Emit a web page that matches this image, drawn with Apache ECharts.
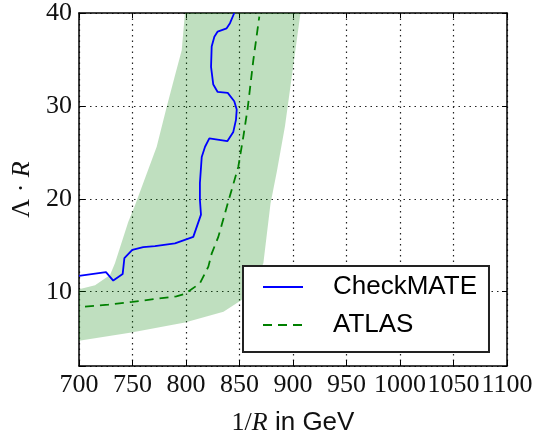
<!DOCTYPE html>
<html>
<head>
<meta charset="utf-8">
<script src="https://cdn.jsdelivr.net/npm/echarts@6/dist/echarts.min.js"></script>
<style>html,body{margin:0;padding:0;background:#fff;}#c{width:539px;height:430px;}</style>
</head>
<body>
<div id="c"></div>
<script>
// ---- data ----
const xTickValues = [700, 750, 800, 850, 900, 950, 1000, 1050, 1100];
const yTickValues = [10, 20, 30, 40];

const checkmateX = [700, 725.2, 732, 740.8, 742.4, 749.8, 760, 771, 789.7, 806.8, 814, 813, 813, 814.7, 817.8, 821.8, 838.6, 844.2, 846.7, 847.4, 845.1, 839, 829.6, 825.5, 823.4, 824, 826.5, 829.6, 838, 841.1, 845.1];
const checkmateY = [11.7, 12.1, 11.2, 11.9, 13.6, 14.5, 14.8, 14.9, 15.2, 15.9, 18.3, 19.9, 21.7, 24.5, 25.6, 26.5, 26.2, 27.2, 28.5, 29.6, 30.5, 31.4, 31.5, 32.3, 34.2, 36.4, 37.45, 38.0, 38.35, 38.9, 40];

const atlasX = [705.6, 727.4, 749.8, 777.3, 791, 799, 813, 820.9, 824, 830.2, 833.4, 839.5, 848.9, 853.6, 857.7, 862.9, 868.5];
const atlasY = [8.4, 8.6, 8.9, 9.3, 9.5, 9.75, 10.9, 12.7, 14.1, 15.9, 17.2, 19.7, 23.45, 26.7, 29.8, 34.9, 39.6];

const bandX = [700, 715, 729, 733.6, 746, 752, 772.6, 782, 790, 796, 799, 907, 892.5, 885, 879, 872.3, 862, 852, 835, 799, 749, 700];
const bandY = [10.25, 10.7, 11.8, 13.05, 17.5, 19.2, 25.6, 29.9, 33.4, 36, 40, 40, 27.8, 23, 19.5, 13.05, 10.5, 9.1, 7.85, 6.67, 5.6, 4.73];

// ---- chart ----
const zip = (xs, ys) => xs.map((x, i) => [x, ys[i]]);
const serif = 'Liberation Serif';
const sans = 'Liberation Sans';
const chart = echarts.init(document.getElementById('c'), null, {renderer: 'canvas'});

const frameLine = {show: true, lineStyle: {color: '#000', width: 1.5}};
const option = {
  animation: false,
  backgroundColor: '#fff',
  grid: {left: 79, top: 13, right: 32, bottom: 64, containLabel: false, outerBoundsMode: 'none'},
  xAxis: [{
    type: 'value', min: 700, max: 1100, interval: 50, position: 'bottom',
    axisLine: frameLine,
    axisTick: {show: true, inside: true, length: 6, lineStyle: {color: '#000', width: 1}},
    axisLabel: {fontFamily: serif, fontSize: 26, color: '#111', margin: 6,
      formatter: v => xTickValues.includes(v) ? String(v) : ''},
    splitLine: {show: true, lineStyle: {color: '#222', width: 1.2, type: [1.5, 4]}},
    name: '{n|1/}{it|R}{s| in GeV}', nameLocation: 'middle', nameGap: 44,
    nameTextStyle: {rich: {
      n: {fontFamily: serif, fontSize: 26, color: '#111'},
      it: {fontFamily: serif, fontStyle: 'italic', fontSize: 26, color: '#111'},
      s: {fontFamily: sans, fontSize: 26, color: '#111'}
    }}
  }, {
    type: 'value', min: 700, max: 1100, interval: 50, position: 'top',
    axisLine: frameLine,
    axisTick: {show: true, inside: true, length: 5, lineStyle: {color: '#000', width: 1}},
    axisLabel: {show: false}, splitLine: {show: false}
  }],
  yAxis: [{
    type: 'value', min: 2, max: 40, position: 'left',
    axisLine: frameLine,
    axisTick: {show: true, inside: true, length: 6, lineStyle: {color: '#000', width: 1}},
    axisLabel: {fontFamily: serif, fontSize: 26, color: '#111', margin: 7,
      formatter: v => yTickValues.includes(v) ? String(v) : ''},
    splitLine: {show: true, lineStyle: {color: '#222', width: 1.2, type: [1.5, 4]}},
    name: '{s|Λ · }{it|R}', nameLocation: 'middle', nameGap: 42,
    nameTextStyle: {rich: {
      s: {fontFamily: serif, fontSize: 26, color: '#111'},
      it: {fontFamily: serif, fontStyle: 'italic', fontSize: 26, color: '#111'}
    }}
  }, {
    type: 'value', min: 2, max: 40, position: 'right',
    axisLine: frameLine,
    axisTick: {show: true, inside: true, length: 5, lineStyle: {color: '#000', width: 1}},
    axisLabel: {show: false}, splitLine: {show: false}
  }],
  legend: {
    left: 243, top: 266, orient: 'vertical',
    backgroundColor: '#fff', borderColor: '#222', borderWidth: 2, borderRadius: 0,
    padding: [8, 12, 14, 19],
    itemWidth: 40, itemHeight: 14, itemGap: 12,
    itemStyle: {opacity: 0},
    textStyle: {fontFamily: sans, fontSize: 26, color: '#000', padding: [0, 0, 0, 25], lineHeight: 26},
    data: ['CheckMATE', 'ATLAS']
  },
  series: [{
    type: 'custom', name: 'band', silent: true, z: 1,
    data: [[0]],
    renderItem: (params, api) => {
      const pts = bandX.map((x, i) => api.coord([x, bandY[i]]));
      return {type: 'polygon', shape: {points: pts}, style: {fill: 'rgba(0,128,0,0.25)'}};
    }
  }, {
    type: 'line', name: 'CheckMATE', data: zip(checkmateX, checkmateY),
    symbol: 'none', z: 3, lineStyle: {color: '#0000ff', width: 1.8}, itemStyle: {color: '#0000ff'}
  }, {
    type: 'line', name: 'ATLAS', data: zip(atlasX, atlasY),
    symbol: 'none', z: 3, lineStyle: {color: '#008000', width: 1.8, type: [9, 6]}, itemStyle: {color: '#008000'}
  }]
};
chart.setOption(option);
</script>
</body>
</html>
